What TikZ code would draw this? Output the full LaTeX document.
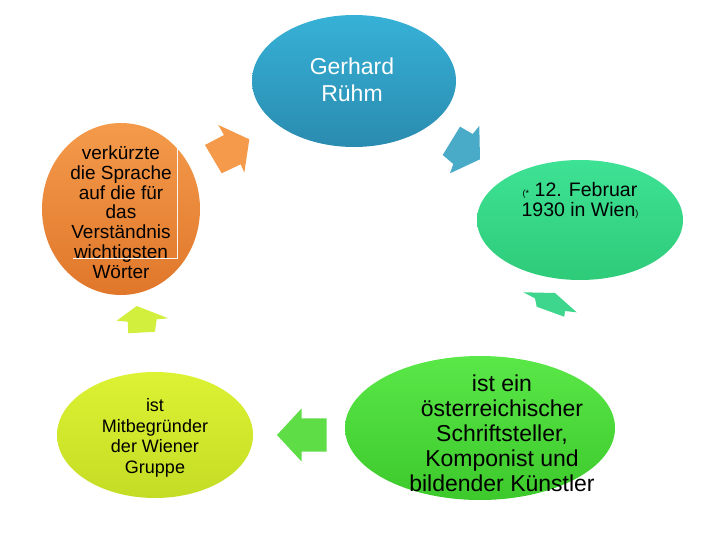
\documentclass[tikz,border=0pt]{standalone}
\usepackage{fontspec}
\setmainfont{Liberation Sans}
\usetikzlibrary{shapes.geometric}
\definecolor{blueA}{HTML}{37B1D7}
\definecolor{blueB}{HTML}{2A8BAF}
\definecolor{tealA}{HTML}{3EE294}
\definecolor{tealB}{HTML}{2ECB79}
\definecolor{greenA}{HTML}{5AE748}
\definecolor{greenB}{HTML}{3DC92B}
\definecolor{limeA}{HTML}{DCF233}
\definecolor{limeB}{HTML}{C4DC24}
\definecolor{orangeA}{HTML}{F49A4B}
\definecolor{orangeB}{HTML}{E0772A}
\definecolor{arrorange}{HTML}{F59A4A}
\definecolor{arrblue}{HTML}{4AABC8}
\definecolor{arrteal}{HTML}{3ED68C}
\definecolor{arrgreen}{HTML}{5EDD47}
\definecolor{arrlime}{HTML}{D3EF3E}

\begin{document}
\begin{tikzpicture}[x=1pt,y=-1pt,
    bubble/.style={ellipse, inner sep=0pt, draw=none},
    bubbletext/.style={align=center, inner sep=0pt, anchor=base, text=black},
    cyclearrow/.style={draw=none}]
        \useasboundingbox (0,0) rectangle (720,540);
        \fill[white] (0,0) rectangle (720,540);
        % Ellipses
        \node[bubble, minimum width=204pt, minimum height=132pt, top color=blueA, bottom color=blueB] (ruehm) at (354,81) {};
        \node[bubble, minimum width=206pt, minimum height=120pt, top color=tealA, bottom color=tealB] (birth) at (580,220) {};
        \node[bubble, minimum width=270pt, minimum height=144pt, top color=greenA, bottom color=greenB] (writer) at (480,428) {};
        \node[bubble, minimum width=196pt, minimum height=126pt, top color=limeA, bottom color=limeB] (group) at (155,435) {};
        \node[bubble, minimum width=158pt, minimum height=172pt, top color=orangeA, bottom color=orangeB] (language) at (121,209) {};
        % Texts (anchored at the baseline of the last line)
        \node[bubbletext, text=white, font=\fontsize{23}{27}\selectfont] (ruehmtext) at (352,102) {Gerhard\\Rühm};
        \node[bubbletext, font=\fontsize{19.5}{20}\selectfont] (birthtext) at (580,216.7)
          {{\fontsize{9}{9}\selectfont(*} 12. Februar\\1930 in Wien{\fontsize{9}{9}\selectfont)}};
        \node[bubbletext, font=\fontsize{23}{25}\selectfont] (writertext) at (502,491.7)
          {ist ein\\österreichischer\\Schriftsteller,\\Komponist und\\bildender Künstler};
        \node[bubbletext, font=\fontsize{18}{20.5}\selectfont] (grouptext) at (155,473)
          {ist\\Mitbegründer\\der Wiener\\Gruppe};
        \node[bubbletext, font=\fontsize{19}{19.8}\selectfont] (languagetext) at (121,278.3)
          {verkürzte\\die Sprache\\auf die für\\das\\Verständnis\\wichtigsten\\Wörter};
        % Text box frame
        \draw[white!92!gray, line width=0.8pt] (73,258.3) -- (177.5,258.3) -- (177.5,143);
        % Arrows
        \fill[cyclearrow, arrorange] (218.3,125) -- (249.3,139.3) -- (244.3,172.7) -- (240.7,164.3)
          -- (221.7,173.3) -- (205,145) -- (224,135) -- cycle;
        \fill[cyclearrow, arrblue] (460,126.7) -- (472.7,134) -- (479.3,126) -- (480,159.3)
          -- (450,173.3) -- (453.3,164) -- (442.7,155) -- cycle;
        \fill[cyclearrow, arrteal] (523.3,292.3) -- (555,293) -- (576.7,312.3) -- (565,311)
          -- (564.3,316.7) -- (536.7,306.7) -- (535,298.3) -- cycle;
        \fill[cyclearrow, arrgreen] (277,435) -- (301.7,408.3) -- (301.7,418.3) -- (326.7,418.3)
          -- (326.7,451.7) -- (301.7,451.7) -- (301.7,461.7) -- cycle;
        \fill[cyclearrow, arrlime] (116.7,320.7) -- (136.7,306) -- (168.3,318.3) -- (156.7,319.3)
          -- (155,331.7) -- (128.3,333.3) -- (127.7,321.7) -- cycle;
      \end{tikzpicture}
\end{document}
